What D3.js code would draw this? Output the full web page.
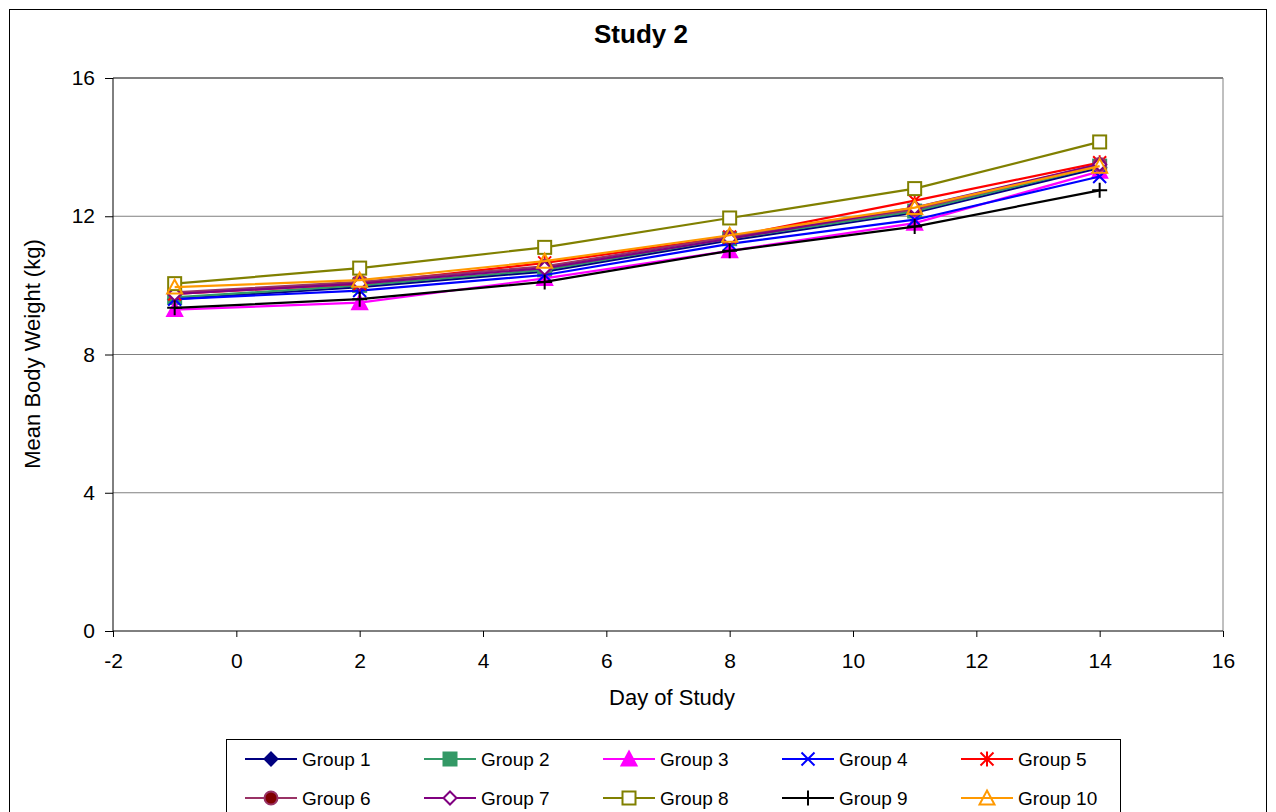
<!DOCTYPE html>
<html><head><meta charset="utf-8">
<script src="https://cdn.jsdelivr.net/npm/d3@7"></script>
<style>body{margin:0;background:#fff}svg{display:block;font-family:"Liberation Sans",Arial,sans-serif}</style>
</head><body><svg id="c" width="1276" height="812"></svg>
<script>
const days = [-1, 2, 5, 8, 11, 14];
const groupNames = ["Group 1","Group 2","Group 3","Group 4","Group 5","Group 6","Group 7","Group 8","Group 9","Group 10"];
const g1 = [9.6, 9.95, 10.4, 11.3, 12.1, 13.4];
const g2 = [9.65, 10.0, 10.45, 11.35, 12.15, 13.45];
const g3 = [9.3, 9.5, 10.2, 11.0, 11.8, 13.3];
const g4 = [9.6, 9.85, 10.3, 11.2, 11.9, 13.15];
const g5 = [9.75, 10.05, 10.65, 11.4, 12.45, 13.55];
const g6 = [9.8, 10.1, 10.55, 11.4, 12.2, 13.5];
const g7 = [9.75, 10.05, 10.5, 11.35, 12.25, 13.5];
const g8 = [10.05, 10.5, 11.1, 11.95, 12.8, 14.15];
const g9 = [9.35, 9.6, 10.1, 11.0, 11.7, 12.75];
const g10 = [9.95, 10.15, 10.7, 11.45, 12.25, 13.45];
const xTicks = [-2, 0, 2, 4, 6, 8, 10, 12, 14, 16];
const yTicks = [0, 4, 8, 12, 16];
const series = [g1,g2,g3,g4,g5,g6,g7,g8,g9,g10];

const styles = [
  {line:"#000080", shape:"diamond", fill:"#000080", stroke:"#000080"},
  {line:"#339966", shape:"square", fill:"#339966", stroke:"#339966"},
  {line:"#FF00FF", shape:"triangle", fill:"#FF00FF", stroke:"#FF00FF"},
  {line:"#0000FF", shape:"x", fill:"none", stroke:"#0000FF"},
  {line:"#FF0000", shape:"star", fill:"none", stroke:"#FF0000"},
  {line:"#993366", shape:"circle", fill:"#800000", stroke:"#993366"},
  {line:"#800080", shape:"diamond", fill:"#fff", stroke:"#800080"},
  {line:"#808000", shape:"square", fill:"#fff", stroke:"#808000"},
  {line:"#000000", shape:"plus", fill:"none", stroke:"#000000"},
  {line:"#FF9900", shape:"triangle", fill:"none", stroke:"#FF9900"}
];

const svg = d3.select("#c");
svg.append("rect").attr("x",9.5).attr("y",9.5).attr("width",1257).attr("height",820)
  .attr("fill","#fff").attr("stroke","#000").attr("stroke-width",1);

const L=113, R=1223, T=78, B=631;
const x = d3.scaleLinear().domain([-2,16]).range([L,R]);
const y = d3.scaleLinear().domain([0,16]).range([B,T]);

svg.append("g").selectAll("line").data(yTicks.filter(v=>v>0 && v<16)).join("line")
  .attr("x1",L).attr("x2",R).attr("y1",d=>y(d)).attr("y2",d=>y(d))
  .attr("stroke","#808080").attr("stroke-width",1);
svg.append("line").attr("x1",L).attr("x2",R).attr("y1",T).attr("y2",T).attr("stroke","#808080").attr("stroke-width",2);
svg.append("line").attr("x1",R).attr("x2",R).attr("y1",T).attr("y2",B).attr("stroke","#808080").attr("stroke-width",1);

const fmt = d => String(d);
const xAxis = d3.axisBottom(x).tickValues(xTicks).tickSize(6).tickPadding(16).tickFormat(fmt);
const yAxis = d3.axisLeft(y).tickValues(yTicks).tickSize(8).tickPadding(10).tickFormat(fmt);
const gx = svg.append("g").attr("transform",`translate(0,${B})`).call(xAxis);
const gy = svg.append("g").attr("transform",`translate(${L},0)`).call(yAxis);
[gx,gy].forEach(g=>{
  g.select(".domain").attr("stroke","#000").attr("stroke-width",1);
  g.selectAll(".tick line").attr("stroke","#000");
  g.selectAll(".tick text").attr("font-size",21).attr("fill","#000").attr("font-family","Liberation Sans, Arial, sans-serif");
});
gx.select(".domain").attr("d",`M${L},0H${R}`);
gy.select(".domain").attr("d",`M0,${T}V${B}`);

svg.append("text").attr("x",641).attr("y",43).attr("text-anchor","middle")
  .attr("font-size",26).attr("font-weight","bold").text("Study 2");
svg.append("text").attr("x",672).attr("y",705).attr("text-anchor","middle")
  .attr("font-size",22).text("Day of Study");
svg.append("text").attr("transform","translate(40,354) rotate(-90)").attr("text-anchor","middle")
  .attr("font-size",22).text("Mean Body Weight (kg)");

function marker(g, shape, st, cx, cy){
  const s = 6.5;
  if(shape==="diamond"){
    g.append("path").attr("d",`M${cx},${cy-s}L${cx+s},${cy}L${cx},${cy+s}L${cx-s},${cy}Z`)
      .attr("fill",st.fill).attr("stroke",st.stroke).attr("stroke-width",2);
  } else if(shape==="square"){
    g.append("rect").attr("x",cx-s).attr("y",cy-s).attr("width",2*s).attr("height",2*s)
      .attr("fill",st.fill).attr("stroke",st.stroke).attr("stroke-width",2);
  } else if(shape==="triangle"){
    g.append("path").attr("d",`M${cx},${cy-s-1}L${cx+s+1},${cy+s}L${cx-s-1},${cy+s}Z`)
      .attr("fill",st.fill).attr("stroke",st.stroke).attr("stroke-width",2);
  } else if(shape==="circle"){
    g.append("circle").attr("cx",cx).attr("cy",cy).attr("r",s)
      .attr("fill",st.fill).attr("stroke",st.stroke).attr("stroke-width",2);
  } else if(shape==="x"){
    g.append("path").attr("d",`M${cx-s},${cy-s}L${cx+s},${cy+s}M${cx-s},${cy+s}L${cx+s},${cy-s}`)
      .attr("stroke",st.stroke).attr("stroke-width",2);
  } else if(shape==="star"){
    g.append("path").attr("d",`M${cx-s},${cy-s}L${cx+s},${cy+s}M${cx-s},${cy+s}L${cx+s},${cy-s}M${cx},${cy-s-1}L${cx},${cy+s+1}`)
      .attr("stroke",st.stroke).attr("stroke-width",2);
  } else if(shape==="plus"){
    g.append("path").attr("d",`M${cx-s-1},${cy}L${cx+s+1},${cy}M${cx},${cy-s-1}L${cx},${cy+s+1}`)
      .attr("stroke",st.stroke).attr("stroke-width",2);
  }
}

const line = d3.line().x(d=>x(d[0])).y(d=>y(d[1]));
series.forEach((vals,i)=>{
  const st = styles[i];
  const g = svg.append("g");
  const pts = days.map((d,j)=>[d, vals[j]]);
  g.append("path").attr("d",line(pts)).attr("fill","none").attr("stroke",st.line).attr("stroke-width",2.2);
  pts.forEach(p=>marker(g, st.shape, st, x(p[0]), y(p[1])));
});

svg.append("rect").attr("x",226.5).attr("y",739.5).attr("width",894).attr("height",90)
  .attr("fill","#fff").attr("stroke","#000").attr("stroke-width",1);
groupNames.forEach((name,i)=>{
  const col = i%5, row = Math.floor(i/5);
  const lx = 245 + col*179, ly = 759 + row*39;
  const st = styles[i];
  const g = svg.append("g");
  g.append("line").attr("x1",lx).attr("x2",lx+52).attr("y1",ly).attr("y2",ly).attr("stroke",st.line).attr("stroke-width",2.2);
  marker(g, st.shape, st, lx+26, ly);
  g.append("text").attr("x",lx+57).attr("y",ly+7).attr("font-size",19).text(name);
});
</script></body></html>
